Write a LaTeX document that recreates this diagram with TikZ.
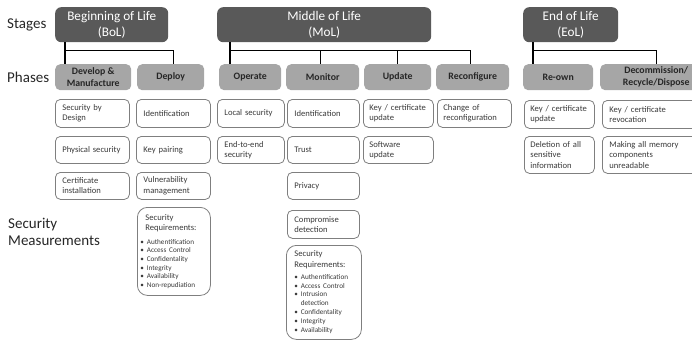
\documentclass[tikz,border=0pt]{standalone}
\usepackage{fontspec}
\setmainfont{Carlito}
\definecolor{stagegray}{HTML}{595959}
\definecolor{phasegray}{HTML}{A6A6A6}
\definecolor{edgegray}{HTML}{7F7F7F}
\definecolor{inkgray}{HTML}{3A3A3A}
\definecolor{labelgray}{HTML}{262626}
% \boxat{style}{name}{x}{y}{width}{height}{text}
\newcommand\boxat[7]{%
  \node[#1, anchor=north west, inner sep=0pt, minimum width=#5pt, minimum height=#6pt] (#2) at (#3,#4) {#7};}
\begin{document}
\begin{tikzpicture}[x=1pt,y=-1pt,
  stagebox/.style={fill=stagegray, rounded corners=6pt, text=white,
    font=\fontsize{13.2}{16}\selectfont, align=center},
  phasebox/.style={fill=phasegray, rounded corners=5pt, text=labelgray,
    font=\bfseries\fontsize{9.8}{12}\selectfont, align=center},
  measbox/.style={draw=edgegray, line width=0.8pt, fill=white, rounded corners=5pt,
    text=inkgray, font=\fontsize{8.6}{10.3}\selectfont, align=left},
  reqbox/.style={measbox, rounded corners=10pt},
  conn/.style={draw=black, line width=1.4pt},
  sidelabel/.style={text=labelgray, font=\fontsize{15}{16.5}\selectfont, align=left, inner sep=0pt}
]
\useasboundingbox (0,0) rectangle (692,340);
\clip (0,0) rectangle (692,340);

% row headings
\node[sidelabel, anchor=west] (lblstages) at (7,25) {Stages};
\node[sidelabel, anchor=west] (lblphases) at (7,77) {Phases};
\node[sidelabel, anchor=north west] (lblmeas) at (8,218) {Security\\Measurements};

% life-cycle stages
\boxat{stagebox}{bol}{55}{7}{113}{35}{Beginning of Life\\(BoL)}
\boxat{stagebox}{mol}{217}{7}{214}{35}{Middle of Life\\(MoL)}
\boxat{stagebox}{eol}{523}{7}{95}{35}{End of Life\\(EoL)}

% phases
\boxat{phasebox}{dev}{55}{64}{76}{26}{Develop \&\\Manufacture}
\boxat{phasebox}{dep}{137}{64}{67}{26}{Deploy}
\boxat{phasebox}{ope}{219}{64}{62}{26}{Operate}
\boxat{phasebox}{mon}{286}{64}{73}{26}{Monitor}
\boxat{phasebox}{upd}{364}{64}{67}{26}{Update}
\boxat{phasebox}{rec}{436}{64}{73}{26}{Reconfigure}
\boxat{phasebox}{own}{523}{64}{70}{26}{Re-own}
\boxat{phasebox}{dec}{600}{64}{112}{26}{Decommission/\\Recycle/Dispose}

% stage-to-phase connectors
\coordinate (bolbus) at ([yshift=-8pt]bol.south);
\coordinate (molbus) at ([yshift=-8pt]mol.south);
\coordinate (eolbus) at ([yshift=-8pt]eol.south);
\draw[conn] ([xshift=10pt]bol.south west) -- ([xshift=10pt]dev.north west);
\draw[conn] ([xshift=10pt]dev.north west |- bolbus) -| ([xshift=3pt]dep.north);
\draw[conn] ([xshift=13pt]mol.south west) -- ([xshift=11pt]ope.north west);
\draw[conn] ([xshift=11pt]ope.north west |- molbus) -| ([xshift=-2.5pt]rec.north);
\draw[conn] ([xshift=-2.5pt]mon.north) -- ([xshift=-2.5pt]mon.north |- molbus);
\draw[conn] ([xshift=-0.5pt]upd.north) -- ([xshift=-0.5pt]upd.north |- molbus);
\draw[conn] ([xshift=10pt]eol.south west) -- ([xshift=10pt]own.north west);
\draw[conn] ([xshift=10pt]own.north west |- eolbus) -| (dec.north);

% security measures: Develop & Manufacture
\boxat{measbox, text width=60pt}{m11}{55}{99}{74}{28}{Security by\\Design}
\boxat{measbox, text width=60pt}{m12}{55}{136}{74}{27}{Physical security}
\boxat{measbox, text width=60pt}{m13}{55}{172}{74}{27}{Certificate\\installation}
% Deploy
\boxat{measbox, text width=60pt}{m21}{136}{99}{74}{28}{Identification}
\boxat{measbox, text width=60pt}{m22}{136}{136}{74}{27}{Key pairing}
\boxat{measbox, text width=60pt}{m23}{136}{172}{74}{27}{Vulnerability\\management}
\boxat{reqbox, text width=67pt}{m24}{137}{207}{73}{88}{%
  {\hspace*{5pt}Security\\\hspace*{5pt}Requirements:\par}\vspace{5pt}%
  {\fontsize{7.2}{8.6}\selectfont • Authentification\\• Access Control\\• Confidentality\\%
   • Integrity\\• Availability\\• Non-repudiation\par}}
% Operate
\boxat{measbox, text width=53pt}{m31}{217}{99}{67}{28}{Local security}
\boxat{measbox, text width=53pt}{m32}{217}{136}{67}{27}{End-to-end\\security}
% Monitor
\boxat{measbox, text width=58pt}{m41}{287}{99}{72}{28}{Identification}
\boxat{measbox, text width=58pt}{m42}{287}{136}{72}{27}{Trust}
\boxat{measbox, text width=58pt}{m43}{287}{172}{72}{27}{Privacy}
\boxat{measbox, text width=58pt}{m44}{287}{210}{72}{28}{Compromise\\detection}
\boxat{reqbox, text width=59pt}{m45}{286}{245}{75}{94}{%
  {Security\\Requirements:\par}\vspace{3pt}%
  {\fontsize{7.2}{8.9}\selectfont • Authentification\\• Access Control\\• Intrusion\\%
   \phantom{• }detection\\• Confidentality\\• Integrity\\• Availability\par}}
% Update
\boxat{measbox, text width=58pt}{m51}{363}{99}{70}{28}{Key / certificate\\update}
\boxat{measbox, text width=58pt}{m52}{363}{136}{70}{27}{Software\\update}
% Reconfigure
\boxat{measbox, text width=62pt}{m61}{437}{99}{74}{28}{Change of\\reconfiguration}
% Re-own
\boxat{measbox, text width=58pt}{m71}{524}{100}{70}{28}{Key / certificate\\update}
\boxat{measbox, text width=58pt}{m72}{524}{136}{70}{37}{Deletion of all\\sensitive\\information}
% Decommission / Recycle / Dispose
\boxat{measbox, text width=96pt}{m81}{602}{100}{110}{28}{Key / certificate\\revocation}
\boxat{measbox, text width=96pt}{m82}{602}{136}{110}{37}{Making all memory\\components\\unreadable}
\end{tikzpicture}
\end{document}
